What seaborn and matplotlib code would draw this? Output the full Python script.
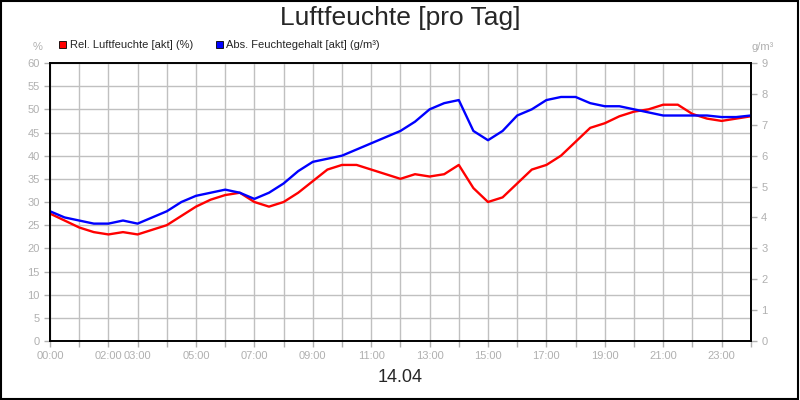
import numpy as np
import pandas as pd
import seaborn as sns
import matplotlib
matplotlib.use("Agg")
import matplotlib.pyplot as plt
from matplotlib.patches import Rectangle

hours = [i * 0.5 for i in range(49)]
rel_humidity = [27.5, 26, 24.5, 23.5, 23, 23.5, 23, 24, 25, 27, 29, 30.5, 31.5, 32, 30, 29,
                30, 32, 34.5, 37, 38, 38, 37, 36, 35, 36, 35.5, 36, 38, 33, 30, 31,
                34, 37, 38, 40, 43, 46, 47, 48.5, 49.5, 50, 51, 51, 49, 48, 47.5, 48, 48.5]
abs_humidity = [4.2, 4.0, 3.9, 3.8, 3.8, 3.9, 3.8, 4.0, 4.2, 4.5, 4.7, 4.8, 4.9, 4.8, 4.6, 4.8,
                5.1, 5.5, 5.8, 5.9, 6.0, 6.2, 6.4, 6.6, 6.8, 7.1, 7.5, 7.7, 7.8, 6.8, 6.5, 6.8,
                7.3, 7.5, 7.8, 7.9, 7.9, 7.7, 7.6, 7.6, 7.5, 7.4, 7.3, 7.3, 7.3, 7.3, 7.25, 7.25, 7.3]
tick_hours = [0, 2, 3, 5, 7, 9, 11, 13, 15, 17, 19, 21, 23]
tick_labels = [f"{h:02d}:00" for h in tick_hours]

df = pd.DataFrame({"h": hours, "rel": rel_humidity, "abs": abs_humidity})

sns.set_style("white")
plt.rcParams["font.family"] = ["Liberation Sans", "DejaVu Sans"]
grey = "#b0b0b0"

fig = plt.figure(figsize=(8, 4), dpi=100)
ax = fig.add_axes([0.0625, 0.1475, 0.876, 0.695])
ax2 = ax.twinx()

sns.lineplot(data=df, x="h", y="rel", ax=ax, color="#ff0000", lw=1.7)
sns.lineplot(data=df, x="h", y="abs", ax=ax2, color="#0000ff", lw=1.7)

ax.set_xlim(0, 24)
ax.set_ylim(0, 60)
ax2.set_ylim(0, 9)
ax.set_yticks(range(0, 61, 5))
ax2.set_yticks(range(0, 10))
ax.set_xticks(range(0, 25), minor=True)
ax.set_xticks(tick_hours)
ax.set_xticklabels(tick_labels)
ax.grid(True, which="both", color="#c0c0c0", lw=1)
ax.set_xlabel("")
ax.set_ylabel("")
ax2.set_ylabel("")
for a in (ax, ax2):
    a.tick_params(colors=grey, labelsize=8, length=4, which="both", width=1)
    for s in a.spines.values():
        s.set_color("black")
        s.set_linewidth(1.2)
ax.tick_params(axis="x", which="both", bottom=True, colors=grey)
ax.tick_params(axis="y", left=True)
ax2.tick_params(axis="y", right=True)

fig.text(0.5, 0.955, "Luftfeuchte [pro Tag]", ha="center", va="center", fontsize=19)
fig.text(0.5, 0.055, "14.04", ha="center", va="center", fontsize=13)
fig.text(0.053, 0.882, "%", ha="right", va="center", fontsize=8, color=grey)
fig.text(0.94, 0.882, "g/m³", ha="left", va="center", fontsize=8, color=grey)

for x0, col, label in [(0.074, "#ff0000", "Rel. Luftfeuchte [akt] (%)"),
                       (0.27, "#0000ff", "Abs. Feuchtegehalt [akt] (g/m³)")]:
    fig.patches.append(Rectangle((x0, 0.879), 0.009, 0.018, transform=fig.transFigure,
                                 facecolor=col, edgecolor="black", lw=0.6))
    fig.text(x0 + 0.013, 0.888, label, va="center", fontsize=8)

fig.patches.append(Rectangle((0.001, 0.002), 0.997, 0.995, transform=fig.transFigure,
                             fill=False, edgecolor="black", lw=1.5))

fig.savefig("out.png", dpi=100)
